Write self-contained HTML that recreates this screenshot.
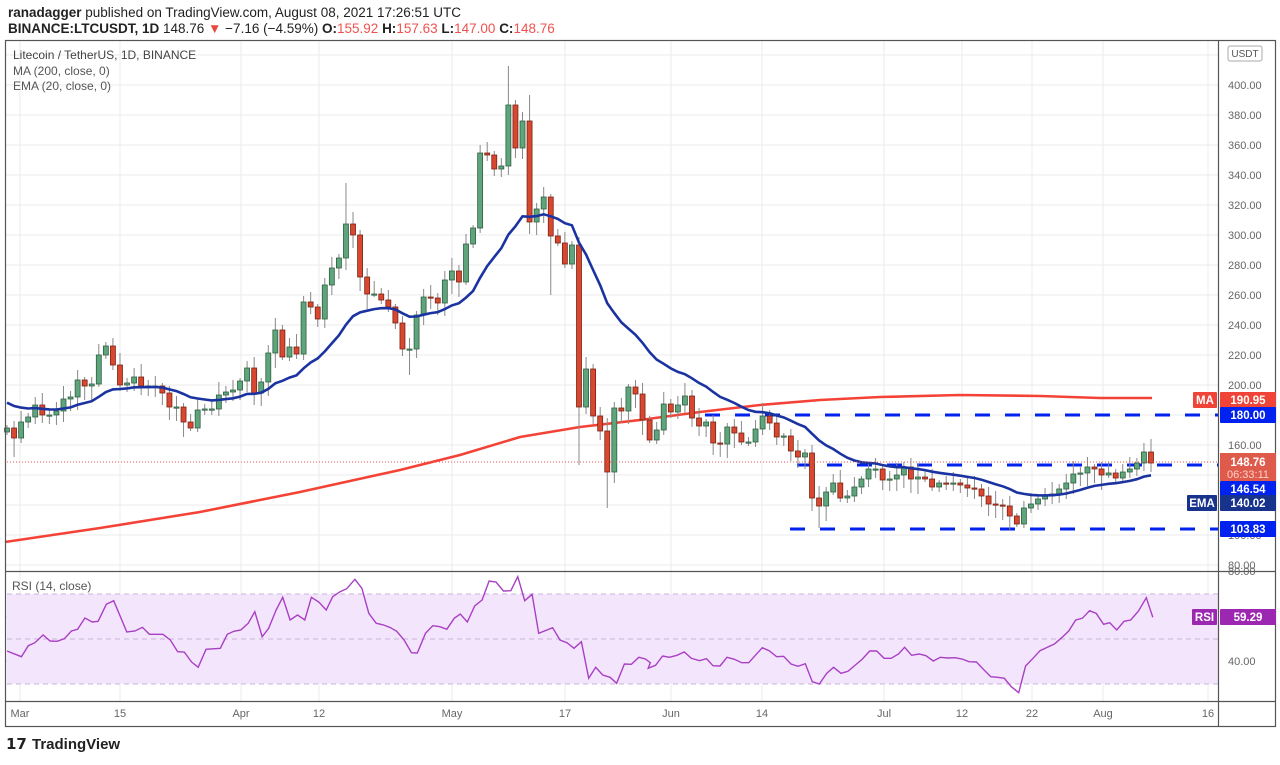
<!DOCTYPE html>
<html><head><meta charset="utf-8"><style>
html,body{margin:0;padding:0;background:#fff;}
body{width:1280px;height:760px;overflow:hidden;font-family:"Liberation Sans",sans-serif;}
</style></head><body>
<svg id="s" width="1280" height="760" xmlns="http://www.w3.org/2000/svg" font-family="Liberation Sans, sans-serif">
<rect width="1280" height="760" fill="#fff"/>
<g id="grid"></g>
<rect x="7" y="594" width="1211" height="90" fill="#f3e6fc"/>
<g stroke="#c9b4d6" stroke-dasharray="5,4" stroke-width="1">
<line x1="7" y1="594" x2="1218" y2="594"/><line x1="7" y1="639" x2="1218" y2="639"/><line x1="7" y1="684" x2="1218" y2="684"/></g>
<g id="ma"></g>
<g id="dash"></g>
<g id="candles"></g>
<g id="ema"></g>
<line x1="7" y1="462" x2="1218" y2="462" stroke="#ef5350" stroke-width="1" stroke-dasharray="1,2"/>
<g id="rsi"></g>
<g stroke="#555" stroke-width="1.2" fill="none">
<rect x="5.5" y="40.5" width="1270" height="686"/>
<line x1="5" y1="571.5" x2="1276" y2="571.5"/>
<line x1="5" y1="701.5" x2="1276" y2="701.5"/>
<line x1="1218.5" y1="40" x2="1218.5" y2="726"/>
</g>
<g id="axis" font-size="11" fill="#666"></g>
<text x="8" y="17" font-size="13.5" fill="#222"><tspan font-weight="bold">ranadagger</tspan> published on TradingView.com, August 08, 2021 17:26:51 UTC</text>
<text x="8" y="33" font-size="13.5" fill="#222"><tspan font-weight="bold">BINANCE:LTCUSDT, 1D</tspan>  148.76 <tspan fill="#e8473d">▼</tspan> −7.16 (−4.59%) <tspan font-weight="bold">O:</tspan><tspan fill="#ef5350">155.92</tspan> <tspan font-weight="bold">H:</tspan><tspan fill="#ef5350">157.63</tspan> <tspan font-weight="bold">L:</tspan><tspan fill="#ef5350">147.00</tspan> <tspan font-weight="bold">C:</tspan><tspan fill="#ef5350">148.76</tspan></text>
<text x="13" y="59" font-size="12" fill="#444">Litecoin / TetherUS, 1D, BINANCE</text>
<text x="13" y="75" font-size="12" fill="#555">MA (200, close, 0)</text>
<text x="13" y="90" font-size="12" fill="#555">EMA (20, close, 0)</text>
<text x="12" y="590" font-size="12" fill="#555">RSI (14, close)</text>
<g font-size="15" font-weight="bold" fill="#222"><text x="6" y="749">𝟭𝟳</text><text x="32" y="749">TradingView</text></g>
</svg>
<script>
var NS="http://www.w3.org/2000/svg";
function el(p,t,a,txt){var e=document.createElementNS(NS,t);for(var k in a)e.setAttribute(k,a[k]);if(txt!==undefined)e.textContent=txt;document.getElementById(p).appendChild(e);return e;}
// grid
var vx=[20,120,241,319,452,565,671,762,884,962,1032,1103,1208];
vx.forEach(function(x){el("grid","line",{x1:x,y1:40,x2:x,y2:701,stroke:"#ebebeb","stroke-width":1});});
for(var p=80;p<=420;p+=20){var y=385+(200-p)*1.5;el("grid","line",{x1:5,y1:y,x2:1218,y2:y,stroke:"#ebebeb","stroke-width":1});
 if(p<420)el("axis","text",{x:1228,y:y+4},p.toFixed(2));}
el("axis","text",{x:1228,y:60},"4");
[617,661].forEach(function(y){el("grid","line",{x1:5,y1:y,x2:1218,y2:y,stroke:"#e3d6ea","stroke-width":1});});
el("axis","text",{x:1228,y:575},"80.00");el("axis","text",{x:1228,y:665},"40.00");
var tl=[["Mar",20],["15",120],["Apr",241],["12",319],["May",452],["17",565],["Jun",671],["14",762],["Jul",884],["12",962],["22",1032],["Aug",1103],["16",1208]];
tl.forEach(function(t){el("axis","text",{x:t[1],y:717,"text-anchor":"middle"},t[0]);});
// MA200
var mp=[[5,542],[100,528],[200,512],[300,492],[400,470],[460,455],[520,437],[580,427],[640,420],[700,412],[760,405],[820,400],[880,397],[960,395],[1040,396],[1100,398],[1152,398]];
el("ma","polyline",{points:mp.map(function(a){return a.join(",")}).join(" "),fill:"none",stroke:"#f44336","stroke-width":2.6});
// dashed levels
[[705,415],[797,465],[790,529]].forEach(function(d){el("dash","line",{x1:d[0],y1:d[1],x2:1218,y2:d[1],stroke:"#0022ee","stroke-width":3,"stroke-dasharray":"15,15"});});
// candles
var c=[428,438,422,417,405,415,415,411,399,397,380,386,384,355,346,365,385,383,377,386,386,386,393,407,407,422,428,410,409,409,395,392,390,381,368,393,382,353,330,357,347,354,302,307,319,285,
268,258,224,235,277,294,294,300,307,323,349,349,315,297,298,303,280,271,282,244,228,153,155,169,166,105,148,121,222,209,197,236,243,264,245,407,369,416,431,472,408,
411,387,394,420,440,430,404,412,405,396,418,426,422,443,444,427,433,442,442,429,416,423,437,436,451,457,453,498,506,492,483,498,496,487,479,469,469,
480,479,475,467,479,477,479,487,483,484,483,485,488,489,496,504,505,506,516,524,508,504,499,496,494,489,483,474,473,467,469,475,473,478,472,469,463,452,463];
var N=c.length,step=(1151-7)/(N-1);
var hiO={},loO={};
function idx(x){return Math.round((x-7)/step);}
hiO[idx(508)]=66;hiO[idx(529)]=95;hiO[idx(347)]=183;hiO[idx(480)]=145;loO[idx(579)]=465;loO[idx(607)]=508;loO[idx(819)]=528;loO[idx(14)]=457;loO[idx(409)]=375;loO[idx(553)]=295;
var prev=432,ema=400,ep=[];
for(var i=0;i<N;i++){var o=prev,cl=c[i],x=7+i*step;
 var hi=hiO[i]||Math.min(o,cl)-(3+(i*37)%11),lo=loO[i]||Math.max(o,cl)+(3+(i*53)%13);
 var up=cl<=o;
 el("candles","line",{x1:x,y1:hi,x2:x,y2:lo,stroke:"#888","stroke-width":1});
 var t=Math.min(o,cl),h=Math.max(Math.abs(o-cl),1.2);
 el("candles","rect",{x:x-2.5,y:t,width:5,height:h,fill:up?"#5fa57c":"#d8472f",stroke:up?"#2f5f42":"#7a2416","stroke-width":0.8});
 ema=ema+(cl-ema)*2/21;ep.push(x.toFixed(1)+","+ema.toFixed(1));prev=cl;}
el("ema","polyline",{points:ep.join(" "),fill:"none",stroke:"#1a33a0","stroke-width":2.6});
// RSI
var r3=[[0,273],[35,290],[52,257],[68,248],[88,225],[105,243],[122,244],[140,236],[157,213],[172,208],[190,174],[208,186],[222,184],[242,133],[260,122],[292,216],[312,213],[330,202],[347,223],[380,223],[398,240],[416,275],[432,276],[450,306],[466,322],[485,268],[520,265],[537,223],[553,214],[570,210],[588,190],[604,155],[622,230],[638,205],[656,150],[672,112],[690,180],[708,165],[726,180],[742,112],[760,126],[778,150],[794,110],[812,95],[828,86],[848,58],[865,85],[882,160],[900,190],[918,195],[935,203],[950,214],[968,240],[986,278],[1000,279],[1020,220],[1038,197],[1055,200],[1072,208],[1090,175],[1105,162],[1122,186],[1140,138],[1158,120],[1175,63],[1192,66],[1210,93],[1228,92],[1245,50],[1262,122],[1280,103],[1296,220],[1330,203],[1348,240],[1365,248],[1382,265],[1400,245],[1418,355],[1435,322],[1452,345],[1470,352],[1486,370],[1505,312],[1522,313],[1540,292],[1556,297],[1568,308]];
var r4=[[20,325],[38,316],[55,288],[72,292],[90,286],[108,276],[125,295],[145,302],[162,296],[178,317],[195,318],[212,292],[230,298],[248,308],[265,308],[298,263],[315,272],[333,290],[350,289],[368,312],[385,319],[403,311],[420,365],[437,372],[455,340],[472,322],[490,340],[507,334],[525,315],[542,297],[560,273],[577,273],[595,295],[612,295],[630,282],[645,262],[662,286],[680,282],[697,287],[715,303],[732,292],[750,294],[768,293],[785,297],[802,305],[820,306],[837,328],[855,350],[872,352],[888,355],[905,380],[923,398],[940,318],[958,295],[975,272],[993,262],[1010,252],[1028,233],[1045,213],[1062,180],[1078,175],[1096,152],[1112,160],[1130,193],[1145,188],[1162,210],[1180,184],[1196,180],[1215,153],[1234,113],[1250,172]];
var rp=[];var sc=640/1560;
r3.forEach(function(a){rp.push((7+a[0]*sc).toFixed(1)+","+(560+a[1]/3).toFixed(1));});
r4.forEach(function(a){rp.push((640+a[0]*sc).toFixed(1)+","+(560+a[1]/3).toFixed(1));});
el("rsi","polyline",{points:rp.join(" "),fill:"none",stroke:"#a93fc4","stroke-width":1.4});
// right labels
function lab(y,h,txt,bg,x,w,fg){el("axis","rect",{x:x||1220,y:y-h/2,width:w||56,height:h,fill:bg,rx:1});el("axis","text",{x:(x||1220)+(w||56)/2,y:y+4,"text-anchor":"middle",fill:fg||"#fff","font-size":11.5,"font-weight":"bold"},txt);}
lab(400,16,"190.95","#f04438");lab(400,16,"MA","#f04438",1193,24);
lab(415,16,"180.00","#0022ee");
el("axis","rect",{x:1220,y:453,width:56,height:28,fill:"#de5b4c"});
el("axis","text",{x:1248,y:466,"text-anchor":"middle",fill:"#fff","font-size":11.5,"font-weight":"bold"},"148.76");
el("axis","text",{x:1248,y:478,"text-anchor":"middle",fill:"#ffd0c8","font-size":11},"06:33:11");
lab(489,16,"146.54","#0022ee");
lab(503,16,"140.02","#17338c");lab(503,16,"EMA","#17338c",1187,30);
lab(529,16,"103.83","#0022ee");
lab(617,16,"59.29","#9c27b0");lab(617,16,"RSI","#9c27b0",1192,25);
el("axis","rect",{x:1228,y:46,width:34,height:15,fill:"#fff",stroke:"#aaa",rx:2});
el("axis","text",{x:1245,y:57,"text-anchor":"middle","font-size":10,fill:"#555"},"USDT");
</script>
</body></html>
